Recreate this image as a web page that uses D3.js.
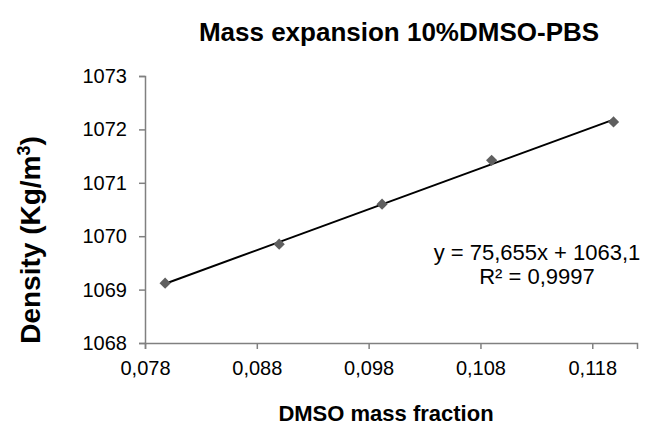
<!DOCTYPE html>
<html>
<head>
<meta charset="utf-8">
<script src="https://cdn.jsdelivr.net/npm/d3@7"></script>
<style>
  html, body { margin: 0; padding: 0; background: #fff; }
  svg { display: block; font-family: "Liberation Sans", Arial, sans-serif; }
</style>
</head>
<body>
<svg id="chart" width="645" height="428"></svg>
<script>
// ---- data ----
const massFraction = [0.0798, 0.0900, 0.0992, 0.1090, 0.1199];
const density = [1069.12, 1069.85, 1070.60, 1071.42, 1072.14];
const xTickValues = [0.078, 0.088, 0.098, 0.108, 0.118];
const yTickValues = [1068, 1069, 1070, 1071, 1072, 1073];
const titleText = "Mass expansion 10%DMSO-PBS";
const xTitle = "DMSO mass fraction";
const equationLines = ["y = 75,655x + 1063,1", "R² = 0,9997"];

const svg = d3.select("#chart");
const x = d3.scaleLinear().domain([0.078, 0.122]).range([145, 637]);
const y = d3.scaleLinear().domain([1068, 1073]).range([343, 76]);
const axisColor = "#808080";

// axes
const xAxis = svg.append("g").attr("transform", `translate(0,${y(1068)})`)
  .call(d3.axisBottom(x).tickValues(xTickValues).tickSizeOuter(0).tickSize(6).tickPadding(12)
    .tickFormat(d => d3.format(".3f")(d).replace(".", ",")));
const yAxis = svg.append("g").attr("transform", `translate(${x(0.078)},0)`)
  .call(d3.axisLeft(y).tickValues(yTickValues).tickSizeOuter(0).tickSize(6).tickPadding(12)
    .tickFormat(d3.format("d")));
[xAxis, yAxis].forEach(g => {
  g.select(".domain").attr("stroke", axisColor).attr("stroke-width", 1.5);
  g.selectAll(".tick line").attr("stroke", axisColor).attr("stroke-width", 1.5);
  g.selectAll(".tick text").attr("fill", "#000").style("font-size", "20px")
    .style("font-family", "'Liberation Sans', Arial, sans-serif");
});

// linear regression trendline
const n = massFraction.length;
const mx = d3.mean(massFraction), my = d3.mean(density);
let sxy = 0, sxx = 0;
for (let i = 0; i < n; i++) { sxy += (massFraction[i]-mx)*(density[i]-my); sxx += (massFraction[i]-mx)**2; }
const slope = sxy / sxx, intercept = my - slope * mx;
const xr = d3.extent(massFraction);
svg.append("line")
  .attr("x1", x(xr[0])).attr("y1", y(slope*xr[0]+intercept))
  .attr("x2", x(xr[1])).attr("y2", y(slope*xr[1]+intercept))
  .attr("stroke", "#000").attr("stroke-width", 2);

// markers
const diamond = d3.symbol().type(d3.symbolDiamond2).size(80);
svg.append("g").selectAll("path").data(massFraction).join("path")
  .attr("d", diamond)
  .attr("transform", (d, i) => `translate(${x(d)},${y(density[i])})`)
  .attr("fill", "#5f5f5f");

// titles
svg.append("text").attr("x", 399).attr("y", 41).attr("text-anchor", "middle")
  .style("font-size", "26px").style("font-weight", "bold").text(titleText);
svg.append("text").attr("x", 386).attr("y", 421).attr("text-anchor", "middle")
  .style("font-size", "22px").style("font-weight", "bold").text(xTitle);
const yt = svg.append("text").attr("transform", "translate(40,240) rotate(-90)")
  .attr("text-anchor", "middle").style("font-size", "28px").style("font-weight", "bold");
yt.append("tspan").text("Density (Kg/m");
yt.append("tspan").attr("dy", -10).style("font-size", "18px").text("3");
yt.append("tspan").attr("dy", 10).text(")");

// equation
svg.append("g").selectAll("text").data(equationLines).join("text")
  .attr("x", 537).attr("y", (d, i) => 260 + i * 23.5).attr("text-anchor", "middle")
  .style("font-size", "22px").text(d => d);
</script>
</body>
</html>
